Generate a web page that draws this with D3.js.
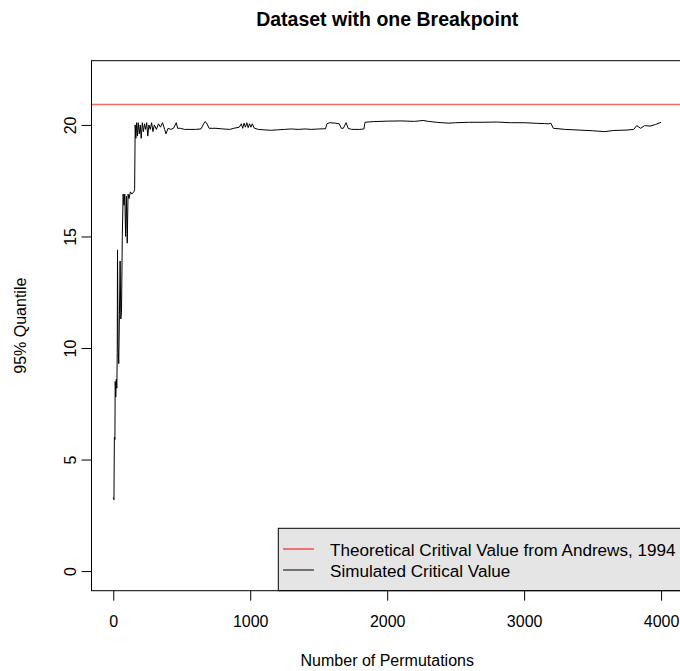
<!DOCTYPE html>
<meta charset="utf-8">
<style>
body { margin: 0; background: #fff; }
svg text { font-family: "Liberation Sans", Arial, sans-serif; fill: #000; }
</style>
<svg id="chart" width="680" height="671"></svg>
<script src="https://cdn.jsdelivr.net/npm/d3@7"></script>
<script>

// number of permutations (x) and simulated 95% quantile (y)
var perms = [1, 5, 8, 12, 14, 18, 22, 26, 29, 31, 35, 40, 45, 50, 55, 60, 66, 72, 78, 84,
  90, 96, 102, 108, 115, 125, 135, 150, 156, 160, 165, 170, 176, 182, 190, 197, 204, 212, 220, 228,
  236, 244, 252, 260, 270, 280, 290, 300, 315, 330, 345, 360, 375, 385, 400, 420, 440, 460, 470, 490,
  520, 560, 600, 640, 660, 670, 680, 700, 750, 800, 850, 880, 920, 935, 945, 955, 965, 975, 985, 995,
  1005, 1015, 1030, 1060, 1100, 1150, 1200, 1250, 1300, 1350, 1400, 1450, 1500, 1550, 1560, 1580, 1620, 1650, 1665, 1680,
  1700, 1715, 1740, 1800, 1830, 1838, 1900, 2000, 2100, 2200, 2263, 2300, 2360, 2400, 2450, 2500, 2600, 2700, 2800, 2900,
  3000, 3100, 3150, 3180, 3195, 3213, 3300, 3400, 3500, 3589, 3650, 3750, 3800, 3822, 3850, 3880, 3920, 3960, 4000];

var quantile = [3.3, 3.2, 6.0, 5.9, 8.5, 7.8, 8.6, 8.2, 9.8, 14.4, 10.0, 9.3, 11.5, 13.9, 11.3, 11.6, 15.0, 16.9, 16.4, 16.9,
  15.0, 16.8, 14.7, 16.9, 16.7, 17.0, 16.9, 17.0, 17.1, 20.0, 19.4, 20.1, 19.5, 20.1, 19.6, 20.0, 19.4, 20.1, 19.7, 20.05,
  19.8, 20.1, 19.5, 20.0, 19.8, 20.1, 19.7, 20.0, 19.8, 20.05, 19.9, 20.1, 19.8, 19.6, 19.85, 19.8, 19.85, 20.1, 19.85, 19.85,
  19.8, 19.8, 19.8, 19.82, 20.05, 20.15, 20.1, 19.85, 19.85, 19.82, 19.8, 19.85, 19.9, 20.05, 19.85, 20.08, 19.9, 20.1, 19.88, 20.05,
  19.9, 20.05, 19.85, 19.8, 19.78, 19.76, 19.78, 19.8, 19.82, 19.8, 19.82, 19.8, 19.82, 19.83, 20.05, 20.1, 20.08, 20.05, 19.85, 19.85,
  20.1, 19.85, 19.8, 19.8, 19.82, 20.12, 20.15, 20.17, 20.18, 20.16, 20.2, 20.16, 20.12, 20.1, 20.08, 20.1, 20.12, 20.12, 20.13, 20.1,
  20.1, 20.07, 20.06, 20.05, 20.08, 19.85, 19.8, 19.77, 19.74, 19.7, 19.75, 19.77, 19.8, 19.97, 19.85, 19.97, 19.95, 20.02, 20.12];

var criticalValue = 20.92;

var xTicks = [0, 1000, 2000, 3000, 4000];
var yTicks = [0, 5, 10, 15, 20];
var legendLabels = ["Theoretical Critival Value from Andrews, 1994", "Simulated Critical Value"];
var legendColors = ["red", "black"];

var plotL = 91.5, plotR = 683, plotT = 60.7, plotB = 590.7;

var svg = d3.select("#chart");

// R style: 4% padding around data range
var xr = d3.extent(perms), xpad = (xr[1] - xr[0]) * 0.04;
var x = d3.scaleLinear()
    .domain([xr[0] - xpad, xr[1] + xpad])
    .range([plotL, plotR]);

var ypad = 22 * 0.04;
var y = d3.scaleLinear()
    .domain([0 - ypad, 22 + ypad])
    .range([plotB, plotT]);

var data = perms.map(function(p, i) { return {p: p, q: quantile[i]}; });

// critical value line
svg.append("line")
    .attr("x1", plotL).attr("x2", plotR)
    .attr("y1", y(criticalValue)).attr("y2", y(criticalValue))
    .attr("stroke", "#f46a6a")
    .attr("stroke-width", 1.5);

var line = d3.line()
    .x(function(d) { return x(d.p); })
    .y(function(d) { return y(d.q); });

svg.append("path")
    .datum(data)
    .attr("d", line)
    .attr("fill", "none")
    .attr("stroke", "black")
    .attr("stroke-width", 1);

// axes
var xAxis = svg.append("g")
    .attr("transform", "translate(0," + plotB + ")")
    .call(d3.axisBottom(x).tickValues(xTicks).tickSize(10).tickSizeOuter(0).tickPadding(26).tickFormat(d3.format("d")));
xAxis.select(".domain").remove();
xAxis.selectAll("text").attr("font-size", 16).attr("dy", 0);

var yAxis = svg.append("g")
    .attr("transform", "translate(" + plotL + ",0)")
    .call(d3.axisLeft(y).tickValues(yTicks).tickSize(10).tickSizeOuter(0));
yAxis.select(".domain").remove();
yAxis.selectAll("text")
    .attr("font-size", 16)
    .attr("x", null).attr("dy", null)
    .attr("text-anchor", "middle")
    .attr("transform", "translate(-15.5,0) rotate(-90)");

// legend
var lg = svg.append("g");
lg.append("rect")
    .attr("x", 278.3).attr("y", 528.3)
    .attr("width", plotR - 278.3).attr("height", plotB - 528.3)
    .attr("fill", "#e5e5e5")
    .attr("stroke", "black");

var item = lg.selectAll(".item")
    .data(legendLabels)
    .enter().append("g")
    .attr("transform", function(d, i) { return "translate(0," + (549 + i * 21) + ")"; });

item.append("line")
    .attr("x1", 283).attr("x2", 314)
    .attr("stroke", function(d, i) { return legendColors[i]; });

item.append("text")
    .attr("x", 330)
    .attr("y", 6.5)
    .attr("font-size", 17.1)
    .text(function(d) { return d; });

// box
svg.append("rect")
    .attr("x", plotL).attr("y", plotT)
    .attr("width", plotR - plotL).attr("height", plotB - plotT)
    .attr("fill", "none")
    .attr("stroke", "black");

// titles
svg.append("text")
    .attr("x", (plotL + plotR) / 2)
    .attr("y", 25.7)
    .attr("text-anchor", "middle")
    .attr("font-size", 19.5)
    .attr("font-weight", "bold")
    .text("Dataset with one Breakpoint");

svg.append("text")
    .attr("x", (plotL + plotR) / 2)
    .attr("y", 666)
    .attr("text-anchor", "middle")
    .attr("font-size", 16)
    .text("Number of Permutations");

svg.append("text")
    .attr("transform", "translate(26," + (plotT + plotB) / 2 + ") rotate(-90)")
    .attr("text-anchor", "middle")
    .attr("font-size", 16)
    .text("95% Quantile");

</script>
